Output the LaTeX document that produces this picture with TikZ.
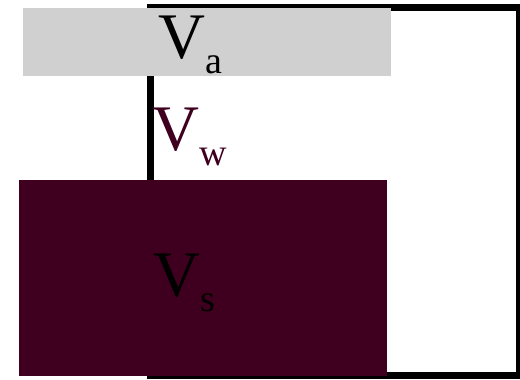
\documentclass[tikz,border=0pt]{standalone}
\usepackage{fontspec}
\setmainfont{Liberation Serif}
\definecolor{maroon}{HTML}{3F0020}
\definecolor{lgray}{HTML}{D0D0D0}
\newcommand{\bigV}[1]{{\fontsize{65}{66}\selectfont V}\kern0pt\raisebox{-15pt}{\fontsize{38}{40}\selectfont #1}}
\begin{document}
\begin{tikzpicture}[x=1pt,y=-1pt,
  lbl/.style={inner sep=0pt,anchor=base west}]
\useasboundingbox (0,0) rectangle (520,380);
\begin{scope}
\clip (0,0) rectangle (520,380);
\draw[line width=7pt] (150.5,7.5) rectangle (519.5,375.5);
\end{scope}
\fill[lgray] (23,8) rectangle (391,76);
\fill[maroon] (19,180) rectangle (387,376);
\node[lbl] (va) at (158,58) {\bigV{a}};
\node[lbl,text=maroon] (vw) at (152,150) {\bigV{w}};
\node[lbl] (vs) at (153,296) {\bigV{s}};
\end{tikzpicture}
\end{document}
